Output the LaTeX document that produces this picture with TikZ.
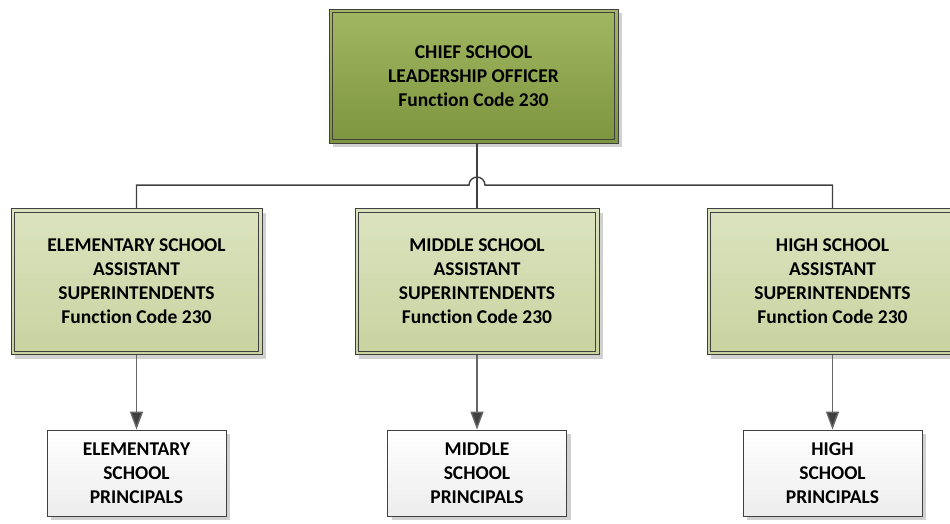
\documentclass[tikz,border=0pt]{standalone}
\usepackage{fontspec}
\setmainfont[Ligatures={NoCommon}]{Carlito}
\usetikzlibrary{arrows.meta,shadows,calc}
\definecolor{linec}{HTML}{404040}
\definecolor{toptop}{HTML}{A2B762}
\definecolor{topbot}{HTML}{7D953E}
\definecolor{midtop}{HTML}{DCE3BF}
\definecolor{midbot}{HTML}{C8D3A0}
\definecolor{lowtop}{HTML}{FFFFFF}
\definecolor{lowbot}{HTML}{EDEDED}
\tikzset{
  x=1pt,y=1pt,
  boxbase/.style={draw=linec,line width=0.9pt,align=center,font=\fontsize{19.5}{24}\selectfont\bfseries,text=black,inner sep=0pt,
    drop shadow={shadow xshift=4pt,shadow yshift=-4pt,fill=black!18,opacity=1}},
  chiefbox/.style={boxbase,top color=toptop,bottom color=topbot},
  asstbox/.style={boxbase,top color=midtop,bottom color=midbot},
  princbox/.style={boxbase,top color=lowtop,bottom color=lowbot},
  innerline/.style={draw=linec,line width=0.6pt},
  conn/.style={draw=linec,line width=1.4pt},
  arr/.style={draw=black!60,line width=1.4pt,-{Triangle[width=13pt,length=18pt,fill=linec]}}
}
\begin{document}
\begin{tikzpicture}
\useasboundingbox (0,0) rectangle (950,-523);
\node[chiefbox,minimum width=289pt,minimum height=134pt] (chief) at (473.5,-76) {CHIEF SCHOOL\\LEADERSHIP OFFICER\\Function Code 230};
\node[asstbox,minimum width=251pt,minimum height=146pt] (elem) at (136.5,-281.5) {ELEMENTARY SCHOOL\\ASSISTANT\\SUPERINTENDENTS\\Function Code 230};
\node[asstbox,minimum width=244pt,minimum height=146pt] (midd) at (477,-281.5) {MIDDLE SCHOOL\\ASSISTANT\\SUPERINTENDENTS\\Function Code 230};
\node[asstbox,minimum width=251pt,minimum height=146pt] (high) at (832.5,-281.5) {HIGH SCHOOL\\ASSISTANT\\SUPERINTENDENTS\\Function Code 230};
\node[princbox,minimum width=179pt,minimum height=86pt] (pe) at (136.5,-473) {ELEMENTARY\\SCHOOL\\PRINCIPALS};
\node[princbox,minimum width=179pt,minimum height=86pt] (pm) at (477,-473) {MIDDLE\\SCHOOL\\PRINCIPALS};
\node[princbox,minimum width=179pt,minimum height=86pt] (ph) at (832.5,-473) {HIGH\\SCHOOL\\PRINCIPALS};
\foreach \n in {chief,elem,midd,high}
  \draw[innerline] ([shift={(4pt,-4pt)}]\n.north west) rectangle ([shift={(-4pt,4pt)}]\n.south east);
% connectors
\coordinate (hopc) at ($(midd.north)+(0,23)$);
\draw[conn] (midd.north |- chief.south) -- (midd.north);
\draw[conn] (elem.north) |- ($(hopc)+(-8,0)$) arc[start angle=180,end angle=0,radius=8pt] -- ($(hopc)+(8,0)$) -| (high.north);
\draw[arr] (elem.south) -- (pe.north);
\draw[arr] (midd.south) -- (pm.north);
\draw[arr] (high.south) -- (ph.north);
\end{tikzpicture}
\end{document}
